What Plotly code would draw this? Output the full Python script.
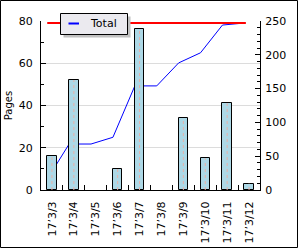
import plotly.graph_objects as go

# ---- data ----
categories = ["17’3/3", "17’3/4", "17’3/5", "17’3/6", "17’3/7",
              "17’3/8", "17’3/9", "17’3/10", "17’3/11", "17’3/12"]
pages = [16, 52, 0, 10, 76, 0, 34, 15, 41, 3]
legend_label = "Total"
left_ticks = [0, 20, 40, 60, 80]
right_ticks = [0, 50, 100, 150, 200, 250]

cumulative = []
run = 0
for v in pages:
    run += v
    cumulative.append(run)
total = cumulative[-1]

# ---- layout geometry (pixels) ----
W, H = 300, 250
L, R, T, B = 41, 260, 21, 190
BAR_W = 0.43

def px(x):
    return (x - L) / (R - L)

def py(y):
    return (B - y) / (B - T)

idx = list(range(len(categories)))
x_line = [i - BAR_W / 2 for i in idx]
bar_vals = [v if v > 0 else None for v in pages]

fig = go.Figure()

# cumulative line (right axis, underneath the bars)
fig.add_trace(go.Scatter(x=x_line, y=cumulative, mode="lines", yaxis="y",
                         line=dict(color="#0000ff", width=1), showlegend=False,
                         hoverinfo="skip"))
# total line
fig.add_trace(go.Scatter(x=[x_line[0], x_line[-1] + 0.07], y=[total, total], mode="lines",
                         yaxis="y", line=dict(color="#ff0000", width=2),
                         showlegend=False, hoverinfo="skip"))
# bars (left axis, overlay)
fig.add_trace(go.Bar(x=idx, y=bar_vals, yaxis="y2", width=BAR_W,
                     marker=dict(color="#add8e6", line=dict(color="black", width=1)),
                     showlegend=False, hoverinfo="skip"))
# dotted centre lines inside bars
dx, dy = [], []
for i, v in zip(idx, pages):
    if v > 0:
        dx += [i, i, None]
        dy += [0, v, None]
fig.add_trace(go.Scatter(x=dx, y=dy, mode="lines", yaxis="y2",
                         line=dict(color="#e8b0a8", width=1, dash="dot"),
                         showlegend=False, hoverinfo="skip"))

font = dict(family="DejaVu Sans", size=10, color="black")

fig.update_layout(
    width=W, height=H,
    margin=dict(l=L, r=W - R, t=T, b=H - B, pad=0, autoexpand=False),
    paper_bgcolor="white", plot_bgcolor="white",
    font=font,
    showlegend=False,
    bargap=0,
    xaxis=dict(
        range=[-0.5, len(categories) - 0.5], automargin=False,
        tickmode="array", tickvals=idx, ticktext=categories,
        tickangle=-90, ticks="", tickfont=dict(family="DejaVu Sans", size=11),
        ticklabelstandoff=6,
        showline=True, linecolor="black", linewidth=1,
        showgrid=False, zeroline=False,
        minor=dict(tickmode="array", tickvals=[i + 0.5 for i in idx[:-1]],
                   ticks="inside", ticklen=5, tickcolor="black", showgrid=False),
        fixedrange=True,
    ),
    yaxis=dict(
        side="right", range=[0, 250], tickmode="array", tickvals=right_ticks,
        automargin=False,
        ticks="inside", ticklen=5, tickcolor="black",
        minor=dict(dtick=10, ticks="inside", ticklen=3, tickcolor="black", showgrid=False),
        showline=True, linecolor="black", linewidth=1,
        showgrid=False, zeroline=False, tickfont=dict(size=11),
        ticklabelstandoff=2,
    ),
    yaxis2=dict(
        overlaying="y", side="left", range=[0, 80], tickmode="array", tickvals=left_ticks,
        automargin=False,
        ticks="inside", ticklen=5, tickcolor="black",
        minor=dict(dtick=10, ticks="inside", ticklen=3, tickcolor="black", showgrid=False),
        showline=True, linecolor="black", linewidth=1,
        showgrid=True, gridcolor="#dcdcdc", gridwidth=1, zeroline=False,
        tickfont=dict(size=11), ticklabelstandoff=5,
        title=dict(text="Pages", font=dict(size=10), standoff=4),
    ),
)

# legend drawn manually (box with drop shadow)
lx0, lx1, ly0, ly1 = 60.5, 127.5, 13.5, 34.5
shapes = [
    dict(type="rect", xref="paper", yref="paper",
         x0=px(lx0 + 3), x1=px(lx1 + 3), y0=py(ly1 + 3), y1=py(ly0 + 3),
         fillcolor="#c0c0c0", line=dict(width=0), layer="above"),
    dict(type="rect", xref="paper", yref="paper",
         x0=px(lx0), x1=px(lx1), y0=py(ly1), y1=py(ly0),
         fillcolor="#ebeaef", line=dict(color="black", width=1), layer="above"),
    dict(type="line", xref="paper", yref="paper",
         x0=px(68.5), x1=px(79), y0=py(23.5), y1=py(23.5),
         line=dict(color="#0000ff", width=2), layer="above"),
    # outer frame
    dict(type="rect", xref="paper", yref="paper",
         x0=px(0.5), x1=px(297.5), y0=py(247.5), y1=py(0.5),
         line=dict(color="black", width=1), layer="above"),
]
fig.update_layout(shapes=shapes)
fig.add_annotation(text=legend_label, xref="paper", yref="paper",
                   x=px(87.5), y=py(24), xanchor="left", yanchor="middle",
                   showarrow=False, font=dict(family="DejaVu Sans", size=11, color="black"))

fig.write_html("out.html", config=dict(displayModeBar=False))
